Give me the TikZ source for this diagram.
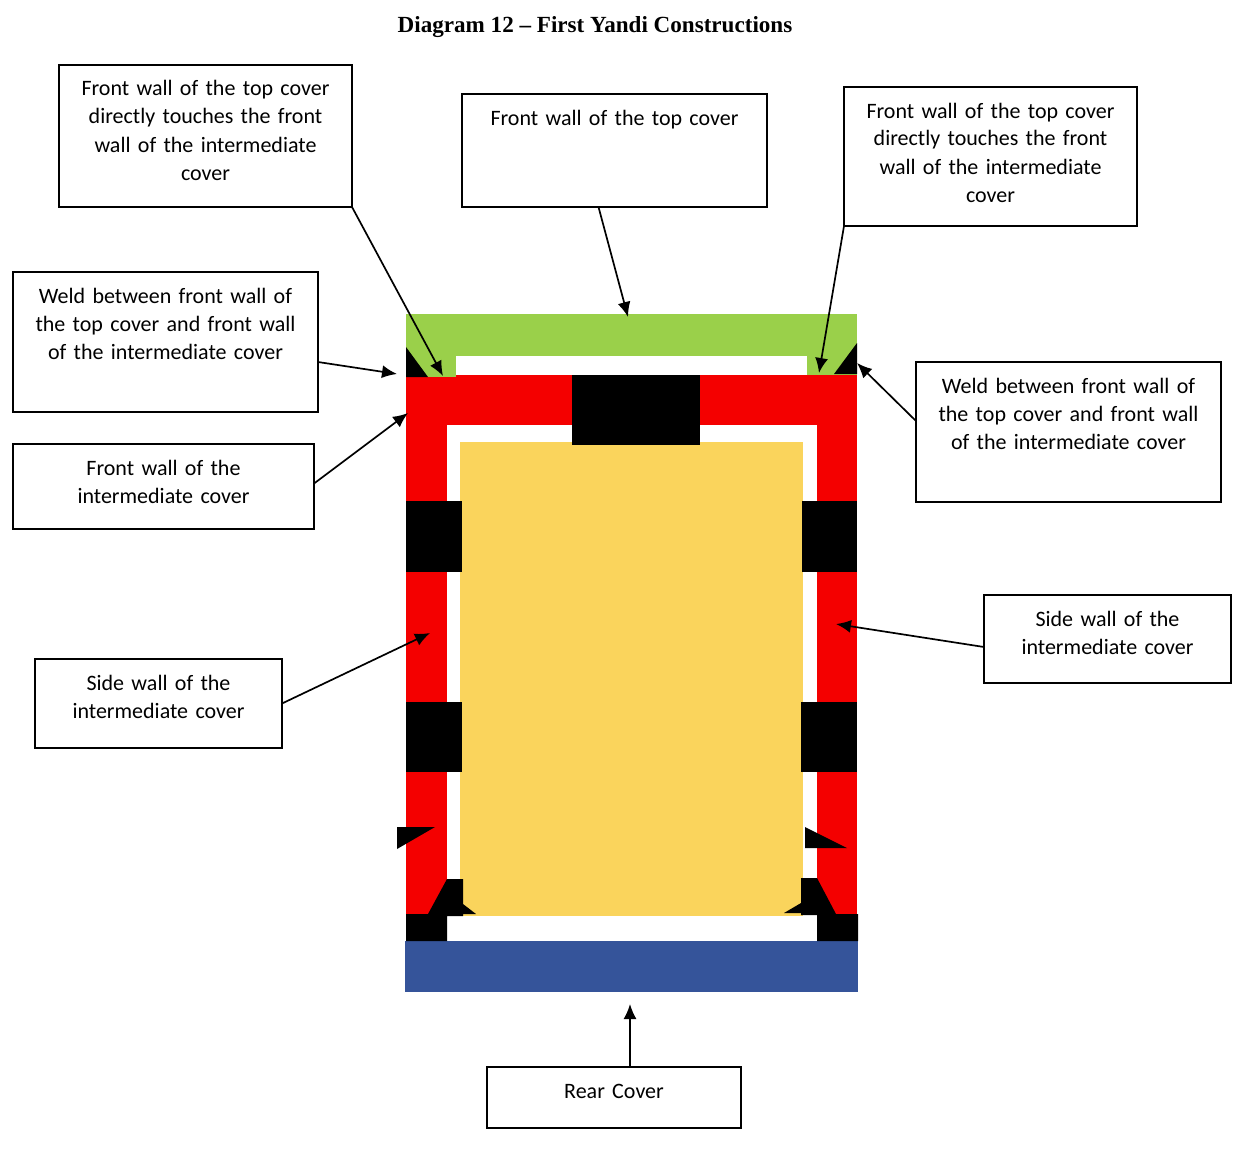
\documentclass[tikz,border=0pt]{standalone}
\usepackage{fontspec}
\setmainfont{Carlito}
\newfontfamily\titlefont{Liberation Serif}
\usetikzlibrary{arrows.meta}
\definecolor{topgreen}{HTML}{9AD04A}
\definecolor{wallred}{HTML}{F40000}
\definecolor{coveryellow}{HTML}{FAD45C}
\definecolor{rearblue}{HTML}{35549A}
\begin{document}
\begin{tikzpicture}[x=1pt, y=-1pt,
    main/.style = {draw, line width=1.5pt, anchor=north west, align=center, inner xsep=2pt, inner ysep=0pt, outer sep=0pt, text height=31pt, font=\fontsize{22}{28}\selectfont},
    arr/.style = {-{Latex[length=15pt,width=13pt]}, line width=1.7pt},
    blk/.style = {fill=black}]
    \useasboundingbox (0,0) rectangle (1249,1153);
    \node[font=\titlefont\bfseries\fontsize{23.1}{26}\selectfont] (title) at (595,27) {Diagram 12 – First Yandi Constructions};
    % cut-away
    \fill[wallred] (406,375) rectangle (857,914);
    \fill[topgreen] (406,314) rectangle (857,356);
    \fill[topgreen] (406,356) rectangle (456,377);
    \fill[topgreen] (807,356) rectangle (857,375);
    \fill[white] (447,425) rectangle (817,941);
    \fill[coveryellow] (460,442) rectangle (803,916);
    \fill[rearblue] (405,941) rectangle (858,992);
    % black blocks
    \fill[blk] (572,375) rectangle (700,445);
    \fill[blk] (406,501) rectangle (462,572);
    \fill[blk] (406,702) rectangle (462,772);
    \fill[blk] (802,501) rectangle (857,572);
    \fill[blk] (801,702) rectangle (857,772);
    \fill[blk] (406,347) -- (428,377) -- (406,377) -- cycle;
    \fill[blk] (857,343) -- (857,374) -- (834,374) -- cycle;
    \fill[blk] (397,827) -- (435,827) -- (397,849) -- cycle;
    \fill[blk] (805,827) -- (847,848) -- (805,848) -- cycle;
    \fill[blk] (447,879) -- (463,879) -- (463,904) -- (476,914) -- (463,914) -- (463,916) -- (447,916) -- (447,941) -- (406,941) -- (406,914) -- (428,914) -- cycle;
    \fill[blk] (817,878) -- (801,878) -- (801,903) -- (784,913) -- (801,913) -- (801,915) -- (817,915) -- (817,941) -- (858,941) -- (858,914) -- (836,914) -- cycle;
    % labels
    \node[main, minimum width=293pt, text width=273pt, text depth=111pt] (topl) at (59,65) {Front wall of the top cover\\directly touches the front\\wall of the intermediate\\cover};
    \node[main, minimum width=305pt, text width=285pt, text depth=82pt] (topm) at (462,94) {Front wall of the top cover};
    \node[main, minimum width=293pt, text width=273pt, text depth=108pt] (topr) at (844,87) {Front wall of the top cover\\directly touches the front\\wall of the intermediate\\cover};
    \node[main, minimum width=305pt, text width=285pt, text depth=109pt] (weldl) at (13,272) {Weld between front wall of\\the top cover and front wall\\of the intermediate cover};
    \node[main, minimum width=301pt, text width=281pt, text depth=54pt] (frontl) at (13,444) {Front wall of the\\intermediate cover};
    \node[main, minimum width=305pt, text width=285pt, text depth=109pt] (weldr) at (916,362) {Weld between front wall of\\the top cover and front wall\\of the intermediate cover};
    \node[main, minimum width=247pt, text width=227pt, text depth=58pt] (sidel) at (35,659) {Side wall of the\\intermediate cover};
    \node[main, minimum width=247pt, text width=227pt, text depth=57pt] (sider) at (984,595) {Side wall of the\\intermediate cover};
    \node[main, minimum width=254pt, text width=234pt, text depth=30pt] (rear) at (487,1067) {Rear Cover};
    % free arrow ends
    \coordinate (e1) at (443,376);
    \coordinate (e2) at (628,317);
    \coordinate (e3) at (819,373);
    \coordinate (e4) at (397,374);
    \coordinate (e5) at (408,413);
    \coordinate (e6) at (857,363);
    \coordinate (e7) at (430,633);
    \coordinate (e8) at (836,624);
    \coordinate (e9) at (630,1004);
    \draw[arr] (topl.south east) -- (e1);
    \draw[arr] ([xshift=-16pt]topm.south) -- (e2);
    \draw[arr] (topr.south west) -- (e3);
    \draw[arr] ([yshift=-20pt]weldl.east) -- (e4);
    \draw[arr] ([yshift=3pt]frontl.east) -- (e5);
    \draw[arr] ([yshift=11pt]weldr.west) -- (e6);
    \draw[arr] (sidel.east) -- (e7);
    \draw[arr] ([yshift=-8pt]sider.west) -- (e8);
    \draw[arr] ([xshift=16pt]rear.north) -- (e9);
\end{tikzpicture}
\end{document}
